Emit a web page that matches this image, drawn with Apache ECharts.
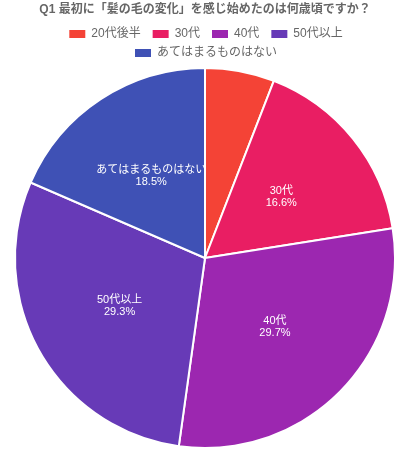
<!DOCTYPE html>
<html>
<head>
<meta charset="utf-8">
<script src="https://cdn.jsdelivr.net/npm/echarts@6/dist/echarts.min.js"></script>
<style>
  html, body { margin: 0; padding: 0; background: #fff; }
  #Echarts { width: 410px; height: 450px; }
</style>
</head>
<body>
<div id="Echarts"></div>
<script>
// 回答データ
var categories = ['20代後半', '30代', '40代', '50代以上', 'あてはまるものはない'];
var percents = [5.9, 16.6, 29.7, 29.3, 18.5];
var colors = ['#f44336', '#e91e63', '#9c27b0', '#673ab7', '#3f51b5'];

var myChart = echarts.init(document.getElementById('Echarts'));

var data = categories.map(function (name, i) {
    var item = { value: percents[i], name: name };
    // 小さいスライスはラベルなし
    if (i === 0) item.label = { show: false };
    return item;
});

// 凡例は2行、各行中央揃え
var legendBase = {
    left: 'center',
    itemWidth: 18,
    itemHeight: 10,
    itemGap: 10,
    icon: 'rect',
    textStyle: { fontSize: 12, color: '#666' }
};

var option = {
    color: colors,
    textStyle: { fontFamily: 'Helvetica, Arial, "Noto Sans CJK JP", sans-serif' },
    title: {
        text: 'Q1 最初に「髪の毛の変化」を感じ始めたのは何歳頃ですか？',
        left: 'center',
        top: 4,
        padding: 0,
        textStyle: { fontSize: 12, fontWeight: 'bold', color: '#666' }
    },
    legend: [
        Object.assign({}, legendBase, { top: 23, data: categories.slice(0, 4) }),
        Object.assign({}, legendBase, { top: 42, data: categories.slice(4) })
    ],
    series: [
        {
            type: 'pie',
            radius: 190,
            center: [205, 258],
            startAngle: 90,
            clockwise: true,
            data: data,
            label: {
                position: 'inside',
                color: '#fff',
                fontSize: 11,
                lineHeight: 12,
                formatter: function (p) { return p.name + '\n' + p.value.toFixed(1) + '%'; }
            },
            itemStyle: { borderColor: '#fff', borderWidth: 2 },
            emphasis: { scale: false }
        }
    ]
};

myChart.setOption(option);
</script>
</body>
</html>
